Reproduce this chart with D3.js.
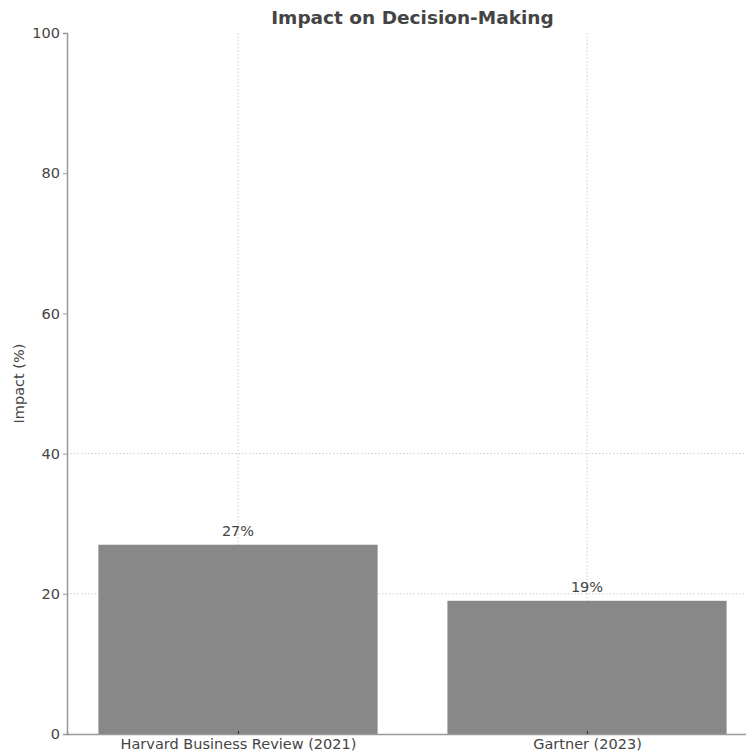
<!DOCTYPE html>
<html>
<head>
<meta charset="utf-8">
<script src="https://cdn.jsdelivr.net/npm/d3@7"></script>
<style>
    body { margin: 0; background: #fff; }
    text { font-family: "DejaVu Sans", sans-serif; fill: #444; }
</style>
</head>
<body>
<div id="chart"></div>
<script>
// Chart data
let sources = ["Harvard Business Review (2021)", "Gartner (2023)"];
let impactValues = [27, 19];
let yTicks = [0, 20, 40, 60, 80, 100];
let yGridTicks = [20, 40];

let width = 746, height = 755;
let fontSize = 14.5;

let svg = d3.select("#chart").append("svg")
    .attr("width", width)
    .attr("height", height);

// Scales (matplotlib-like category positions 0..n-1 with margins)
let xScale = d3.scaleLinear()
    .domain([-0.49, sources.length - 1 + 0.49])
    .range([67, 758]);
let barWidth = xScale(0.8) - xScale(0);

let yScale = d3.scaleLinear()
    .domain([0, 100])
    .range([734, 33]);

// Grid lines
svg.append("g")
    .selectAll("line.vgrid")
    .data(sources)
    .enter().append("line")
    .attr("x1", (d, i) => xScale(i))
    .attr("x2", (d, i) => xScale(i))
    .attr("y1", yScale(100))
    .attr("y2", yScale(0))
    .attr("stroke", "#ccc")
    .attr("stroke-width", 1)
    .attr("stroke-dasharray", "1.5,2");

svg.append("g")
    .selectAll("line.hgrid")
    .data(yGridTicks)
    .enter().append("line")
    .attr("x1", xScale.range()[0])
    .attr("x2", xScale.range()[1])
    .attr("y1", d => yScale(d))
    .attr("y2", d => yScale(d))
    .attr("stroke", "#ccc")
    .attr("stroke-width", 1)
    .attr("stroke-dasharray", "1.5,2");

// Bars
svg.selectAll(".bar")
    .data(impactValues)
    .enter().append("rect")
    .attr("class", "bar")
    .attr("x", (d, i) => xScale(i) - barWidth / 2)
    .attr("y", d => yScale(d))
    .attr("width", barWidth)
    .attr("height", d => yScale(0) - yScale(d))
    .attr("fill", "#888888");

// Bar value labels
svg.selectAll(".valueLabel")
    .data(impactValues)
    .enter().append("text")
    .attr("class", "valueLabel")
    .attr("x", (d, i) => xScale(i))
    .attr("y", d => yScale(d) - 9)
    .attr("text-anchor", "middle")
    .attr("font-size", fontSize)
    .text(d => d + "%");

// Y axis
let yAxis = d3.axisLeft(yScale)
    .tickValues(yTicks)
    .tickSize(4)
    .tickPadding(3);

let yG = svg.append("g")
    .attr("transform", "translate(" + xScale.range()[0] + ",0)")
    .call(yAxis);
yG.select(".domain").attr("stroke", "#999").attr("stroke-width", 1.5);
yG.selectAll(".tick line").attr("stroke", "#999");
yG.selectAll(".tick text").attr("font-size", fontSize).attr("fill", "#444")
    .style("font-family", "DejaVu Sans, sans-serif");

// X axis
let xAxis = d3.axisBottom(xScale)
    .tickValues(sources.map((d, i) => i))
    .tickFormat(i => sources[i])
    .tickSize(-3)
    .tickPadding(5);

let xG = svg.append("g")
    .attr("transform", "translate(0," + yScale(0) + ")")
    .call(xAxis);
xG.select(".domain").attr("stroke", "#999").attr("stroke-width", 1.5);
xG.selectAll(".tick line").attr("stroke", "#333");
xG.selectAll(".tick text").attr("font-size", fontSize).attr("fill", "#444")
    .style("font-family", "DejaVu Sans, sans-serif");

// Axis label
svg.append("text")
    .attr("transform", "translate(24," + yScale(50) + ") rotate(-90)")
    .attr("text-anchor", "middle")
    .attr("font-size", fontSize)
    .text("Impact (%)");

// Title
svg.append("text")
    .attr("x", (xScale.range()[0] + xScale.range()[1]) / 2)
    .attr("y", 24)
    .attr("text-anchor", "middle")
    .attr("font-size", 18.5)
    .attr("font-weight", "bold")
    .text("Impact on Decision-Making");
</script>
</body>
</html>
